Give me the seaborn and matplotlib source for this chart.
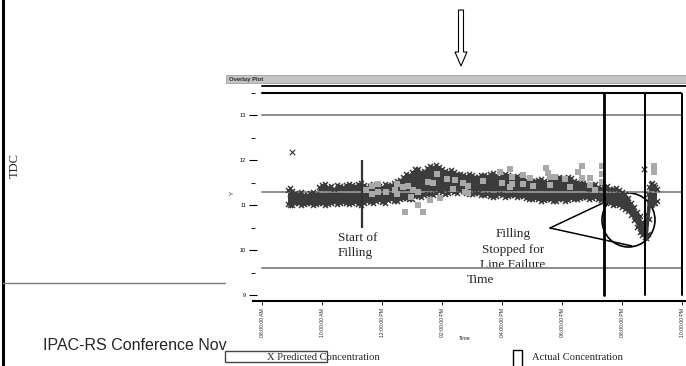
import matplotlib
matplotlib.use("Agg")
import matplotlib.pyplot as plt
import seaborn as sns
import pandas as pd
from matplotlib.patches import Rectangle, Ellipse, FancyArrow

sns.set_style("white")
plt.rcParams['font.family'] = ['Liberation Sans', 'DejaVu Sans']
SERIF = ['Liberation Serif', 'DejaVu Serif']

# ---------------- data (hours of day, concentration) ----------------
# predicted concentration: lower / upper edge of the dense cloud of X markers
band_time = [8.85, 9.0, 9.2, 9.4, 9.6, 9.8, 10.0, 10.2, 10.4, 10.6, 10.8, 11.0, 11.2,
             11.4, 11.6, 11.8, 12.0, 12.2, 12.4, 12.6, 12.8, 13.0, 13.2, 13.4, 13.6,
             13.8, 14.0, 14.2, 14.4, 14.6, 14.8, 15.0, 15.2, 15.4, 15.6, 15.8, 16.0,
             16.2, 16.4, 16.6, 16.8, 17.0, 17.2, 17.4, 17.6, 17.8, 18.0, 18.2, 18.4,
             18.6, 18.8, 19.0, 19.2, 19.4, 19.6, 19.8, 20.0, 20.2, 20.4, 20.6, 20.75,
             20.85, 20.95, 21.05, 21.15]
band_low = [11.03, 11.01, 11.05, 11.02, 11.04, 11.03, 11.05, 11.02, 11.07, 11.05, 11.06,
            11.05, 11.03, 11.05, 11.08, 11.10, 11.07, 11.11, 11.10, 11.13, 11.17, 11.15,
            11.20, 11.23, 11.25, 11.27, 11.30, 11.27, 11.30, 11.33, 11.27, 11.25, 11.27,
            11.23, 11.20, 11.21, 11.23, 11.20, 11.22, 11.20, 11.17, 11.15, 11.13, 11.11,
            11.13, 11.10, 11.13, 11.12, 11.15, 11.17, 11.18, 11.17, 11.15, 11.10, 11.05,
            11.02, 10.97, 10.87, 10.67, 10.40, 10.30, 10.35, 11.00, 11.05, 11.10]
band_high = [11.35, 11.31, 11.25, 11.23, 11.28, 11.25, 11.45, 11.40, 11.37, 11.43, 11.45,
             11.45, 11.47, 11.45, 11.43, 11.45, 11.40, 11.45, 11.50, 11.57, 11.70, 11.73,
             11.80, 11.77, 11.87, 11.90, 11.80, 11.75, 11.73, 11.70, 11.65, 11.67, 11.63,
             11.67, 11.70, 11.67, 11.65, 11.67, 11.63, 11.60, 11.57, 11.55, 11.57, 11.53,
             11.55, 11.57, 11.60, 11.63, 11.55, 11.50, 11.47, 11.45, 11.41, 11.40, 11.37,
             11.39, 11.30, 11.17, 10.95, 10.75, 10.50, 11.25, 11.47, 11.45, 11.37]
# in-between samples of the same cloud
band_time_b = [8.93, 9.1, 9.3, 9.5, 9.7, 9.9, 10.1, 10.3, 10.5, 10.7, 10.9, 11.1, 11.3,
               11.5, 11.7, 11.9, 12.1, 12.3, 12.5, 12.7, 12.9, 13.1, 13.3, 13.5, 13.7,
               13.9, 14.1, 14.3, 14.5, 14.7, 14.9, 15.1, 15.3, 15.5, 15.7, 15.9, 16.1,
               16.3, 16.5, 16.7, 16.9, 17.1, 17.3, 17.5, 17.7, 17.9, 18.1, 18.3, 18.5,
               18.7, 18.9, 19.1, 19.3, 19.5, 19.7, 19.9, 20.1, 20.3, 20.5, 20.68, 20.8,
               20.9, 21.0, 21.1]
band_low_b = [11.00, 11.04, 11.00, 11.06, 11.01, 11.06, 11.00, 11.06, 11.03, 11.08, 11.02,
              11.07, 11.01, 11.09, 11.06, 11.12, 11.06, 11.13, 11.09, 11.17, 11.13, 11.20,
              11.19, 11.26, 11.23, 11.31, 11.26, 11.31, 11.28, 11.32, 11.24, 11.28, 11.22,
              11.24, 11.18, 11.24, 11.19, 11.23, 11.18, 11.20, 11.13, 11.16, 11.10, 11.14,
              11.09, 11.14, 11.10, 11.16, 11.13, 11.19, 11.15, 11.18, 11.12, 11.09, 11.01,
              11.00, 10.91, 10.79, 10.52, 10.33, 10.28, 10.70, 11.03, 11.06]
band_high_b = [11.38, 11.27, 11.29, 11.22, 11.30, 11.40, 11.47, 11.42, 11.46, 11.40, 11.48,
               11.42, 11.50, 11.41, 11.47, 11.42, 11.47, 11.44, 11.55, 11.62, 11.68, 11.80,
               11.75, 11.82, 11.85, 11.86, 11.77, 11.78, 11.70, 11.68, 11.70, 11.62, 11.68,
               11.66, 11.72, 11.64, 11.69, 11.62, 11.66, 11.58, 11.60, 11.54, 11.59, 11.52,
               11.58, 11.62, 11.58, 11.60, 11.52, 11.49, 11.44, 11.47, 11.38, 11.42, 11.36,
               11.33, 11.25, 11.05, 10.85, 10.62, 10.80, 11.40, 11.50, 11.40]

actual_time = [11.47, 11.67, 11.67, 11.87, 11.87, 12.13, 12.43, 12.50, 12.50, 12.70,
               12.87, 13.03, 12.97, 13.20, 13.20, 13.37, 12.77, 13.53, 13.60, 13.70,
               13.83, 13.93, 14.17, 14.37, 14.43, 14.70, 14.77, 14.87, 14.87, 15.37,
               15.93, 16.00, 16.27, 16.27, 16.33, 16.33, 16.70, 16.70, 16.93, 17.03,
               17.47, 17.53, 17.60, 17.60, 17.77, 18.10, 18.27, 18.53, 18.67, 18.67,
               18.93, 18.93, 19.10, 19.33, 19.33, 19.33, 21.07, 21.07]
actual_conc = [11.33, 11.42, 11.24, 11.47, 11.29, 11.29, 11.33, 11.47, 11.24, 11.40,
               11.42, 11.33, 11.18, 11.29, 11.00, 10.84, 10.84, 11.51, 11.11, 11.49,
               11.69, 11.16, 11.58, 11.36, 11.56, 11.49, 11.29, 11.42, 11.27, 11.53,
               11.73, 11.49, 11.80, 11.40, 11.62, 11.47, 11.67, 11.47, 11.60, 11.42,
               11.84, 11.71, 11.62, 11.44, 11.64, 11.58, 11.40, 11.73, 11.87, 11.60,
               11.60, 11.44, 11.33, 11.87, 11.69, 11.51, 11.87, 11.73]

outlier_time = [9.0, 20.73]
outlier_conc = [12.18, 11.80]

x_tick_hours = [8, 10, 12, 14, 16, 18, 20, 22]
x_tick_labels = ["08:00:00 AM", "10:00:00 AM", "12:00:00 PM", "02:00:00 PM",
                 "04:00:00 PM", "06:00:00 PM", "08:00:00 PM", "10:00:00 PM"]
y_ticks = [9, 10, 11, 12, 13]
y_minor = [9.5, 10.5, 11.5, 12.5, 13.5]
ref_levels = [13.0, 11.29, 9.6]
filling_start = 11.33
stop_lines = [19.4, 20.77]

DARK = '#3c3c3c'
LIGHT = '#a9a9a9'

W, H = 686, 366
fig = plt.figure(figsize=(W / 100, H / 100), dpi=100)

bg = fig.add_axes([0, 0, 1, 1])
bg.set_xlim(0, W)
bg.set_ylim(H, 0)
bg.axis('off')

# data axes: pixel box x 253..686, y 93..301
ax = fig.add_axes([253 / W, (H - 301) / H, 433 / W, 208 / H])
ax.set_facecolor('none')

band_df = pd.DataFrame({
    'time': band_time + band_time + band_time_b + band_time_b,
    'conc': band_low + band_high + band_low_b + band_high_b,
})
sns.lineplot(data=band_df, x='time', y='conc', estimator='mean', errorbar=('pi', 100),
             color=DARK, linewidth=0.5, err_kws={'alpha': 1, 'linewidth': 0},
             ax=ax, zorder=2)
sns.scatterplot(data=band_df, x='time', y='conc', marker='x', s=13, color=DARK,
                linewidth=1.1, ax=ax, zorder=2)
sns.scatterplot(x=actual_time, y=actual_conc, marker='s', s=20, color=LIGHT,
                linewidth=0, ax=ax, zorder=3)
sns.scatterplot(x=outlier_time, y=outlier_conc, marker='x', s=16, color='#333333',
                linewidth=0.8, ax=ax, zorder=3)

ax.set_xlim(7.7, 22.133)
ax.set_ylim(8.867, 13.5)

xa = (262 - 253) / 433
xb = (681 - 253) / 433
for lv in ref_levels:
    ax.axhline(lv, xmin=xa, xmax=xb, color='#8c8c8c', lw=1.4, zorder=1)
ymin_v = (301 - 295) / 208
ax.axvline(stop_lines[0], ymin=ymin_v, ymax=1, color='black', lw=2.0, zorder=5)
ax.axvline(stop_lines[1], ymin=ymin_v, ymax=1, color='black', lw=1.4, zorder=5)
ax.axvline(22.0, ymin=ymin_v, ymax=1, color='black', lw=1.4, zorder=5)
ax.axhline(13.5, xmin=xa, xmax=xb, color='black', lw=1.5, zorder=5, clip_on=False)
ax.vlines(filling_start, 10.49, 12.0, color='#333333', lw=1.6, zorder=4)

for s in ['left', 'top', 'right']:
    ax.spines[s].set_visible(False)
ax.spines['bottom'].set_color('black')
ax.spines['bottom'].set_linewidth(1.5)

ax.set_yticks(y_ticks)
ax.set_yticklabels([str(v) for v in y_ticks])
ax.set_yticks(y_minor, minor=True)
ax.tick_params(axis='y', which='major', direction='inout', length=6, width=0.8,
               labelsize=4, pad=2, left=True, colors='black')
ax.tick_params(axis='y', which='minor', direction='inout', length=3, width=0.8, left=True)
ax.set_xticks(x_tick_hours)
ax.set_xticklabels(x_tick_labels, rotation=90, fontsize=3.7)
ax.tick_params(axis='x', which='major', direction='out', length=3, width=0.7,
               pad=2, bottom=True)
ax.set_xlabel('Time', fontsize=4)
ax.xaxis.set_label_coords((465 - 253) / 433, -(339 - 301) / 208)
ax.xaxis.label.set_va('center')
ax.set_ylabel('Y', fontsize=4.5)
ax.yaxis.set_label_coords((232 - 253) / 433, (301 - 193) / 208)
ax.yaxis.label.set_va('center')

# ---------------- slide decorations ----------------
bg.plot([2.5, 2.5], [0, H], color='black', lw=2.2)
bg.text(15, 165, 'TDC', rotation=90, family=SERIF, fontsize=9, ha='center', va='center')
bg.plot([3, 225], [283, 283], color='#7a7a7a', lw=1)
bg.text(43, 345, 'IPAC-RS Conference Nov', fontsize=11.5, ha='left', va='center')

bg.add_patch(FancyArrow(461, 10, 0, 56, width=5, head_width=12, head_length=14,
                        length_includes_head=True, fill=False, ec='black', lw=0.8))

bg.add_patch(Rectangle((226, 75), 460, 8, fc='#c4c4c4', ec='#a0a0a0', lw=0.6))
bg.text(229, 79, 'Overlay Plot', fontsize=4.2, fontweight='bold', ha='left', va='center')
bg.plot([262, 686], [86, 86], color='black', lw=1.3)

# annotations
bg.text(338, 238, 'Start of', family=SERIF, fontsize=9.5, ha='left', va='center', zorder=6)
bg.text(338, 253, 'Filling', family=SERIF, fontsize=9.5, ha='left', va='center', zorder=6)
bg.text(513, 234, 'Filling', family=SERIF, fontsize=9.5, ha='center', va='center', zorder=6)
bg.text(513, 250, 'Stopped for', family=SERIF, fontsize=9.5, ha='center', va='center', zorder=6)
bg.text(513, 265, 'Line Failure', family=SERIF, fontsize=9.5, ha='center', va='center', zorder=6)
bg.text(467, 280, 'Time', family=SERIF, fontsize=9.5, ha='left', va='center', zorder=6)
bg.plot([550, 622], [228, 194], color='black', lw=1.1, zorder=6)
bg.plot([550, 632], [228, 246], color='black', lw=1.1, zorder=6)
bg.add_patch(Ellipse((628.5, 220), 53, 54, fill=False, ec='black', lw=1.2, zorder=6))

# legend
bg.add_patch(Rectangle((225, 351), 102, 11, fc='white', ec='#444444', lw=1, zorder=5))
bg.text(267, 358, 'X Predicted Concentration', family=SERIF, fontsize=7.6,
        ha='left', va='center', zorder=6)
bg.add_patch(Rectangle((513, 350), 9, 20, fc='white', ec='black', lw=1, zorder=5))
bg.text(532, 357, 'Actual Concentration', family=SERIF, fontsize=7.6,
        ha='left', va='center', zorder=6)

fig.savefig('out.png', dpi=100)
